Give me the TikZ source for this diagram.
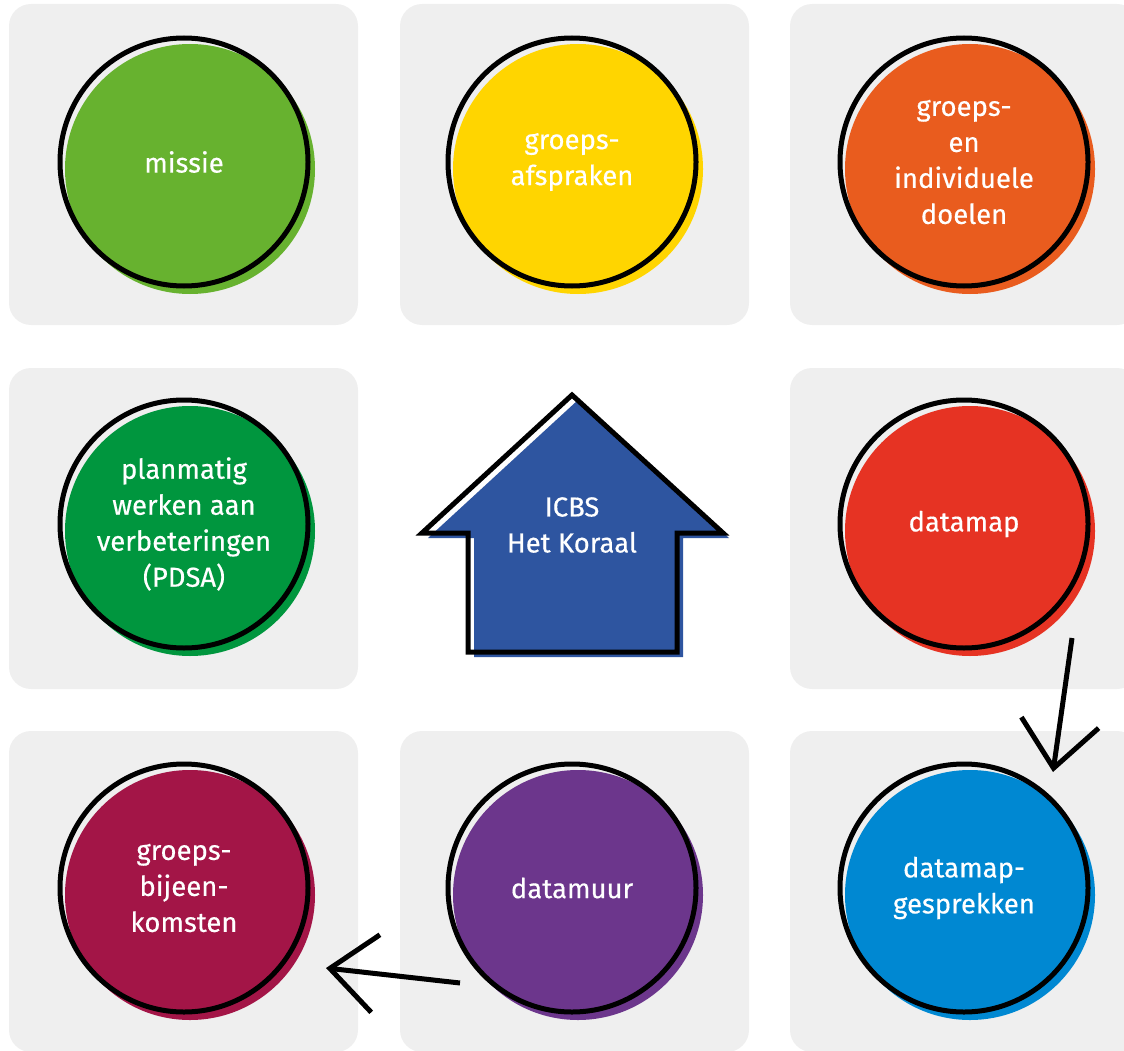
\documentclass[tikz,border=0pt]{standalone}
\usepackage{fontspec}
\setmainfont{Fira Sans}[FakeBold=0.4]
\usetikzlibrary{arrows.meta}
\definecolor{boxgray}{HTML}{EFEFEF}
\definecolor{cgreen}{HTML}{67B22F}
\definecolor{cyellow}{HTML}{FFD500}
\definecolor{corange}{HTML}{E95C1E}
\definecolor{cdgreen}{HTML}{00963E}
\definecolor{cred}{HTML}{E63323}
\definecolor{cblue}{HTML}{0088D2}
\definecolor{cbordeaux}{HTML}{A31547}
\definecolor{cpurple}{HTML}{6C368C}
\definecolor{carrow}{HTML}{2E55A0}
\tikzset{
  bgbox/.style={fill=boxgray, rounded corners=22pt},
  blob/.style={circle, inner sep=0pt, minimum size=250pt},
  ring/.style={circle, draw=black, line width=5pt, minimum size=248pt, inner sep=0pt,
    text=white, align=center, font=\fontsize{27.5}{36}\selectfont},
  conn/.style={line width=5pt, -{Straight Barb[length=46pt,width=78pt,line join=miter]}},
}
\begin{document}
\begin{tikzpicture}[x=1pt,y=-1pt]
\useasboundingbox (0,0) rectangle (1124,1051);
\begin{scope}
\clip (0,0) rectangle (1124,1051);
% background boxes
\foreach \bx in {9,400,790} {
  \foreach \by in {4,731} {
    \fill[bgbox] (\bx,\by) rectangle ++(349,321);
  }
}
\fill[bgbox] (9,368) rectangle ++(349,321);
\fill[bgbox] (790,368) rectangle ++(349,321);
\end{scope}
% circles: colored fill offset, black ring on top
\foreach \cx/\cy/\col in {184/162/cgreen, 572/162/cyellow, 964/162/corange,
  184/524/cdgreen, 964/524/cred,
  184/888/cbordeaux, 572/888/cpurple, 964/888/cblue} {
  \node[blob, fill=\col] at (\cx+6,\cy+7) {};
}
\node[ring] (missie) at (184,162) {missie};
\node[ring] (afspraken) at (572,162) {groeps-\\afspraken};
\node[ring] (doelen) at (964,162) {groeps-\\en\\individuele\\doelen};
\node[ring] (pdsa) at (184,524) {planmatig\\werken aan\\verbeteringen\\(PDSA)};
\node[ring] (datamap) at (964,524) {datamap};
\node[ring] (bijeen) at (184,888) {groeps-\\bijeen-\\komsten};
\node[ring] (datamuur) at (572,888) {datamuur};
\node[ring] (gesprek) at (964,888) {datamap-\\gesprekken};
% central house arrow
\fill[carrow, shift={(6,5)}] (572,395) -- (723,533) -- (677,533) -- (677,652)
  -- (468,652) -- (468,533) -- (422,533) -- cycle;
\draw[line width=5pt, line join=miter] (572,395) -- (723,533) -- (677,533) -- (677,652)
  -- (468,652) -- (468,533) -- (422,533) -- cycle;
\node[text=white, align=center, font=\fontsize{27.5}{36}\selectfont] (icbs) at (572,525) {ICBS\\Het Koraal};
% connectors
\coordinate (a1s) at (1072,638);
\coordinate (a1e) at (1053,772);
\coordinate (a2s) at (460,983);
\coordinate (a2e) at (326,968);
\draw[conn] (a1s) -- (a1e);
\draw[conn] (a2s) -- (a2e);
\end{tikzpicture}
\end{document}
